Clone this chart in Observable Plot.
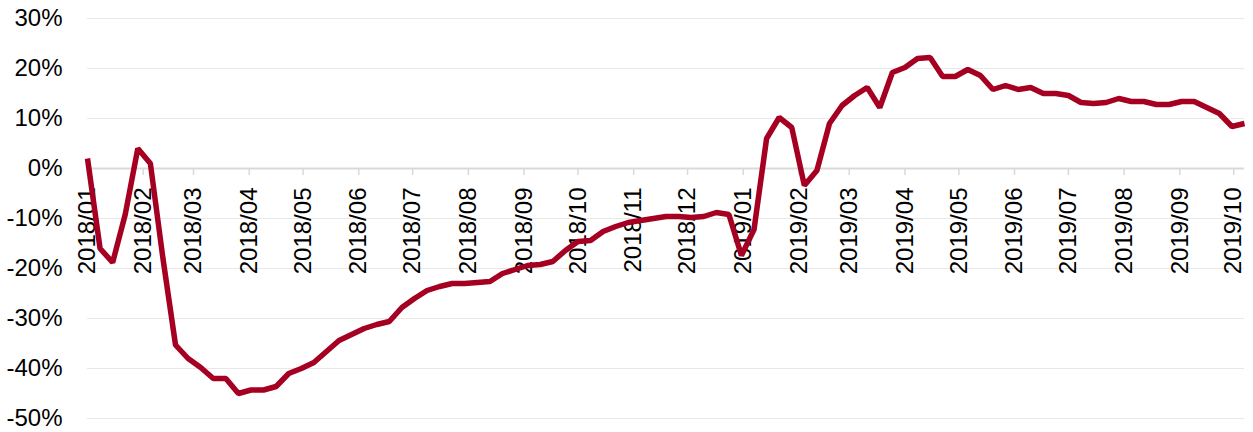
<!DOCTYPE html>
<html>
<head>
<meta charset="utf-8">
<script src="https://cdn.jsdelivr.net/npm/d3@7"></script>
<script src="https://cdn.jsdelivr.net/npm/@observablehq/plot@0.6"></script>
<style>
  html, body { margin: 0; padding: 0; background: #fff; }
  #chart svg { display: block; }
</style>
</head>
<body>
<div id="chart"></div>
<script>
// Weekly series start (first observation) and weekly values (%)
const startDate = "2018-01-01";
const values = [
  2.0, -16.0, -18.8, -9.2, 4.0, 1.0, -18.0, -35.3, -38.0, -39.8,
  -42.0, -42.0, -45.0, -44.3, -44.3, -43.6, -41.0, -40.0, -38.8, -36.6,
  -34.4, -33.2, -32.0, -31.2, -30.6, -27.8, -26.0, -24.4, -23.6, -23.0,
  -23.0, -22.8, -22.6, -21.0, -20.2, -19.4, -19.2, -18.6, -16.4, -14.6,
  -14.4, -12.6, -11.6, -10.8, -10.4, -10.0, -9.6, -9.6, -9.8, -9.6,
  -8.8, -9.2, -17.4, -12.2, 6.0, 10.2, 8.2, -3.4, -0.4, 9.0,
  12.6, 14.6, 16.2, 12.2, 19.2, 20.2, 22.0, 22.2, 18.4, 18.4,
  19.8, 18.6, 15.8, 16.6, 15.8, 16.2, 15.0, 15.0, 14.6, 13.2,
  13.0, 13.2, 14.0, 13.4, 13.4, 12.8, 12.8, 13.4, 13.4, 12.2,
  11.0, 8.4, 9.0
];
// Month tick labels
const monthLabels = [
  "2018/01","2018/02","2018/03","2018/04","2018/05","2018/06","2018/07",
  "2018/08","2018/09","2018/10","2018/11","2018/12","2019/01","2019/02",
  "2019/03","2019/04","2019/05","2019/06","2019/07","2019/08","2019/09","2019/10"
];
// Y tick values (%)
const yTicks = [-50, -40, -30, -20, -10, 0, 10, 20, 30];

const start = new Date(startDate + "T00:00:00Z");
const data = values.map((v, i) => ({date: d3.utcDay.offset(start, 7 * i), value: v}));
const months = monthLabels.map(s => ({date: new Date(s.replace("/", "-") + "-01T00:00:00Z"), label: s}));

const chart = Plot.plot({
  width: 1253,
  height: 432,
  marginLeft: 87,
  marginRight: 9,
  marginTop: 18,
  marginBottom: 14,
  style: {fontFamily: "'Liberation Sans', Arial, sans-serif", fontSize: "24px", color: "#000", background: "#fff"},
  x: {type: "utc", domain: [data[0].date, data[data.length - 1].date]},
  y: {domain: [-50, 30]},
  marks: [
    Plot.ruleY(yTicks.filter(d => d !== 0), {stroke: "#e8e8e8", strokeWidth: 1}),
    Plot.ruleY([0], {stroke: "#d9d9d9", strokeWidth: 2}),
    Plot.ruleX(months, {x: "date", y1: 0, y2: 0, insetBottom: -7, stroke: "#d9d9d9", strokeWidth: 1.5}),
    Plot.text(months, {x: "date", y: 0, text: "label", rotate: -90, textAnchor: "end", dy: 19, fill: "#000", fontSize: 24}),
    Plot.axisY({ticks: yTicks, tickFormat: d => d + "%", tickSize: 0, tickPadding: 25, fontSize: 24, label: null}),
    Plot.axisX({ticks: [], label: null}),
    Plot.line(data, {x: "date", y: "value", stroke: "#a50021", strokeWidth: 5.5, strokeLinejoin: "miter", strokeLinecap: "butt"})
  ]
});
document.getElementById("chart").appendChild(chart);
</script>
</body>
</html>
